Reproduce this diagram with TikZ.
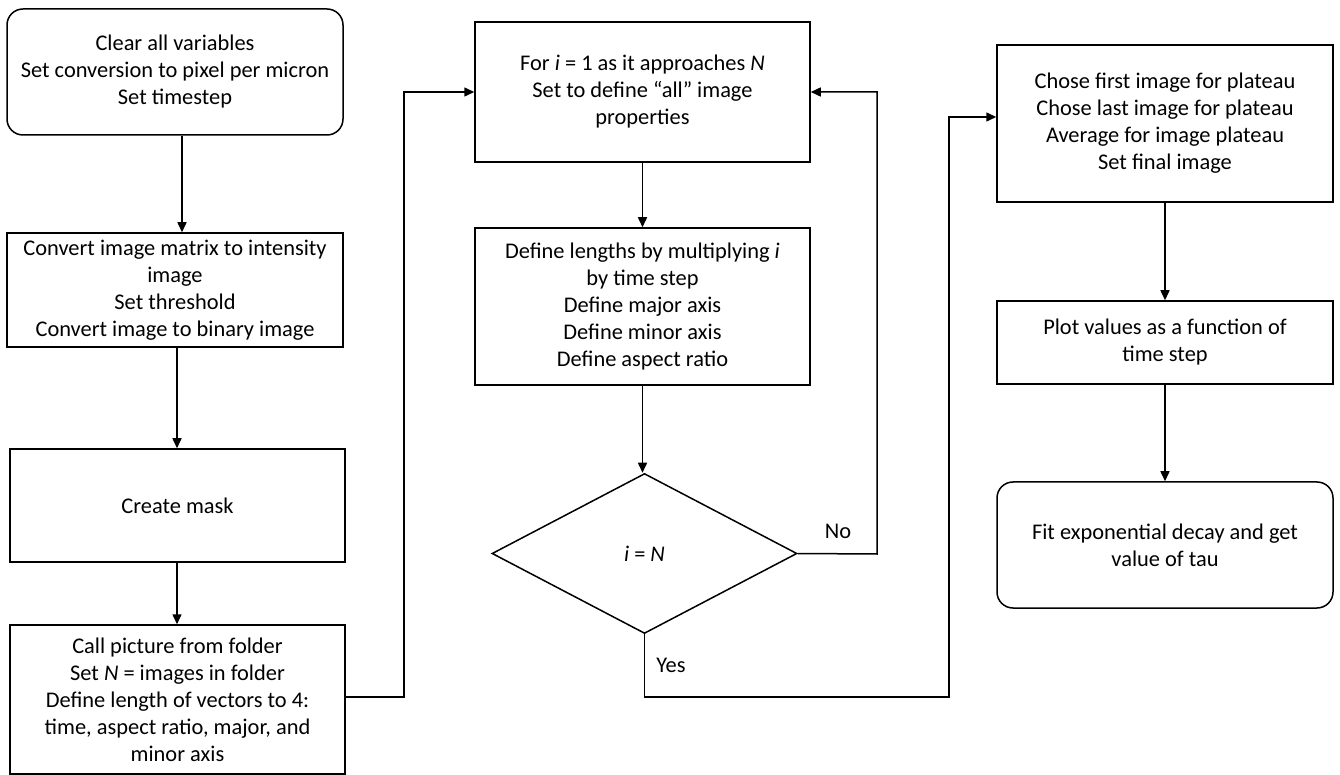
\documentclass[tikz,border=0pt]{standalone}
\usepackage{fontspec}
\setmainfont{Carlito}
\usetikzlibrary{shapes.geometric,arrows.meta}
\begin{document}
\begin{tikzpicture}[x=0.5pt,y=-0.5pt,
  font=\fontsize{11.2}{13.5}\selectfont,
  box/.style={draw,line width=0.75pt,align=center,inner sep=0pt},
  rbox/.style={box,rounded corners=8pt},
  dec/.style={draw,line width=0.75pt,diamond,inner sep=0pt,align=center},
  conn/.style={line width=0.75pt},
  arr/.style={conn,-{Triangle[length=5pt,width=4.5pt]}},
  lbl/.style={inner sep=0pt}]
\useasboundingbox (0,0) rectangle (1340,775);
% left column
\node[rbox,minimum width=168pt,minimum height=63pt] (b1) at (175,72)
  {Clear all variables\\Set conversion to pixel per micron\\Set timestep};
\node[box,minimum width=168pt,minimum height=57pt] (b2) at (175,290)
  {Convert image matrix to intensity\\image\\Set threshold\\Convert image to binary image};
\node[box,minimum width=167.5pt,minimum height=56.5pt] (b3) at (177.5,505.5)
  {Create mask};
\node[box,minimum width=167.5pt,minimum height=74.5pt] (b4) at (177.5,699.5)
  {Call picture from folder\\Set \textit{N} = images in folder\\Define length of vectors to 4:\\time, aspect ratio, major, and\\minor axis};
% middle column
\node[box,minimum width=167.5pt,minimum height=70pt] (b5) at (642.5,92)
  {For \textit{i} = 1 as it approaches \textit{N}\\Set to define “all” image\\properties};
\node[box,minimum width=167.5pt,minimum height=78.5pt] (b6) at (642.5,306.5)
  {Define lengths by multiplying \textit{i}\\by time step\\Define major axis\\Define minor axis\\Define aspect ratio};
\node[dec,minimum width=152.5pt,minimum height=80pt,aspect=1.9] (d) at (644.5,553.5)
  {\textit{i} = \textit{N}};
% right column
\node[box,minimum width=168pt,minimum height=78.5pt] (b7) at (1165,123.5)
  {Chose first image for plateau\\Chose last image for plateau\\Average for image plateau\\Set final image};
\node[box,minimum width=168pt,minimum height=41.5pt] (b8) at (1165,342.5)
  {Plot values as a function of\\time step};
\node[rbox,minimum width=168pt,minimum height=63pt] (b9) at (1165,545)
  {Fit exponential decay and get\\value of tau};
% coordinates for connectors
\coordinate (c1) at (404,697);
\coordinate (c2) at (877,554);
\coordinate (c3) at (949,697);
\coordinate (c4) at (949,117);
% connectors
\draw[arr] ([xshift=3.5pt]b1.south) -- ([xshift=3.5pt]b1.south |- b2.north);
\draw[arr] ([xshift=1pt]b2.south) -- ([xshift=1pt]b2.south |- b3.north);
\draw[arr] ([xshift=-0.25pt]b3.south) -- ([xshift=-0.25pt]b4.north);
\draw[arr] (c1 -| b4.east) -- (c1) |- (b5.west);
\draw[arr] (b5.south) -- (b6.south |- b6.north);
\draw[arr] (b6.south) -- (b6.south |- d.north);
\draw[arr] (d.east) -- (c2) |- (b5.east);
\draw[arr] (d.south) |- (c3) -- (c4) -- (c4 -| b7.west);
\draw[arr] (b7.south) -- (b8.north);
\draw[arr] (b8.south) -- (b9.north);
% labels
\node[lbl] (no) at (838,531) {No};
\node[lbl] (yes) at (671,665) {Yes};
\end{tikzpicture}
\end{document}
